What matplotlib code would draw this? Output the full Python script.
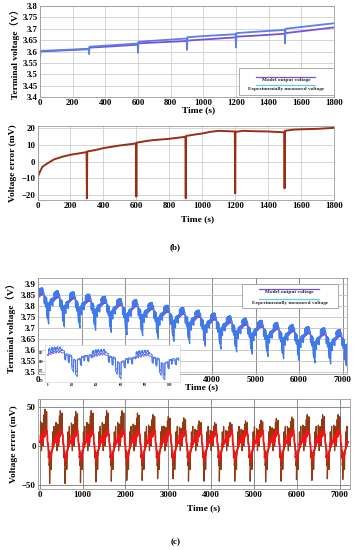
import matplotlib
matplotlib.use('Agg')
import matplotlib.pyplot as plt
import numpy as np
from matplotlib.patches import Rectangle

plt.rcParams['font.family'] = ['Liberation Serif', 'Noto Sans CJK SC']
plt.rcParams['font.weight'] = 'bold'
plt.rcParams['axes.labelweight'] = 'bold'

### data, panel (b) top: terminal voltage, 1800 s test
meas1_t = [0, 3, 10, 150, 298, 300, 303, 450, 598, 600, 603, 750, 898, 900, 903, 1050,
           1198, 1200, 1203, 1350, 1498, 1500, 1503, 1650, 1800]
meas1_v = [3.571, 3.600, 3.603, 3.607, 3.612, 3.589, 3.621, 3.628, 3.635, 3.595, 3.643, 3.650,
           3.657, 3.607, 3.663, 3.670, 3.676, 3.618, 3.681, 3.688, 3.695, 3.636, 3.700, 3.712, 3.724]
model1_t = [0, 150, 298, 303, 450, 598, 603, 750, 898, 903, 1050, 1198, 1203, 1350, 1498, 1503, 1650, 1800]
model1_v = [3.600, 3.605, 3.610, 3.617, 3.623, 3.630, 3.636, 3.641, 3.646, 3.648, 3.655, 3.662,
            3.665, 3.671, 3.678, 3.681, 3.693, 3.706]

# panel (b) bottom: voltage error (mV)
err1_t = [0, 2, 10, 30, 60, 100, 150, 200, 250, 298, 300, 302, 350, 400, 500, 598, 600, 602,
          650, 700, 800, 898, 900, 902, 950, 1000, 1050, 1100, 1198, 1200, 1202, 1250, 1300,
          1400, 1498, 1500, 1502, 1550, 1600, 1700, 1800]
err1_v = [-22.5, -9, -7, -3, -1, 1.4, 3, 4.2, 5, 5.8, -22, 6.2, 7, 8.2, 9.8, 11, -21, 11.5,
          12.3, 13, 13.8, 15, -22, 15.5, 16.3, 17, 18, 18.6, 18.2, -19, 18, 18.6, 18.4,
          18.2, 17.7, -16, 18.6, 19.3, 19.5, 19.8, 20.4]

### panel (c): 20 pulse cycles of 360 s
cyc_start = [0, 360, 720, 1080, 1440, 1800, 2160, 2520, 2880, 3240,
             3600, 3960, 4320, 4680, 5040, 5400, 5760, 6120, 6480, 6840]
cyc_top = [3.878, 3.865, 3.860, 3.850, 3.840, 3.830, 3.825, 3.812, 3.800, 3.790,
           3.778, 3.765, 3.752, 3.742, 3.732, 3.722, 3.712, 3.703, 3.698, 3.690]
err_peak = [47, 45, 44, 45, 45, 45, 42, 40, 38, 36, 32, 30, 30, 32, 33, 35, 37, 40, 40, 40]
err_dip = [-48, -48, -47, -46, -45, -44, -44, -42, -42, -45, -45, -45, -45, -45, -46, -45, -43, -44, -42, -43]

# one cycle (offsets from the cycle's top voltage)
cyc_dt = [0, 8, 9, 15, 16, 24, 25, 30, 31, 38, 39, 45, 46, 53, 54, 60, 61, 68, 69, 75, 76,
          83, 84, 90, 91, 98, 99, 105, 106, 113, 114, 120, 121, 140, 141, 150, 151, 170, 171,
          180, 181, 200, 201, 215, 216, 230, 231, 245, 246, 270, 271, 280, 281, 300, 301,
          306, 307, 330, 331, 340, 341, 359]
meas_dv = [-0.040, -0.040, -0.010, -0.018, -0.005, -0.030, -0.030, -0.022, -0.004, -0.015,
           0.000, -0.025, -0.025, -0.012, -0.002, -0.012, 0.002, -0.020, -0.020, -0.010,
           -0.001, -0.008, 0.003, -0.018, -0.018, -0.006, 0.000, -0.004, 0.002, -0.018,
           -0.018, -0.010, -0.018, -0.020, -0.065, -0.070, -0.035, -0.038, -0.080, -0.085,
           -0.040, -0.045, -0.115, -0.135, -0.065, -0.070, -0.145, -0.160, -0.065, -0.060,
           -0.095, -0.100, -0.050, -0.048, -0.075, -0.070, -0.045, -0.045, -0.075, -0.078,
           -0.042, -0.040]
model_dv = [-0.045, -0.045, -0.034, -0.034, -0.032, -0.040, -0.040, -0.038, -0.028, -0.028,
            -0.026, -0.036, -0.036, -0.034, -0.024, -0.024, -0.022, -0.032, -0.032, -0.030,
            -0.021, -0.021, -0.020, -0.030, -0.030, -0.028, -0.019, -0.019, -0.018, -0.030,
            -0.030, -0.029, -0.030, -0.032, -0.060, -0.062, -0.042, -0.044, -0.072, -0.075,
            -0.048, -0.052, -0.100, -0.112, -0.068, -0.072, -0.125, -0.135, -0.070, -0.066,
            -0.088, -0.092, -0.056, -0.054, -0.070, -0.068, -0.052, -0.052, -0.072, -0.074,
            -0.048, -0.045]
err_dt = [0, 20, 21, 23, 40, 41, 43, 60, 61, 63, 80, 81, 83, 100, 101, 103, 120, 121, 123,
          140, 141, 143, 160, 161, 163, 180, 181, 200, 201, 220, 221, 230, 231, 236, 250,
          270, 271, 275, 300, 301, 303, 330, 331, 333, 359]
err_brown = [5, 8, 30, 9, 8, -6, 6, 10, 28, 11, 10, 0, 10, 12, 38, 13, 12, 45, 14, 15, 40,
             15, 17, 42, 16, 14, 2, 0, -15, -10, -25, -20, -47, -30, -20, -12, -30, -10,
             -5, 18, -3, 0, 25, 2, 5]
err_red = [5, 8, 14, 9, 8, 2, 6, 10, 15, 11, 10, 5, 10, 12, 18, 13, 12, 20, 14, 15, 19,
           15, 17, 20, 16, 14, 6, 2, -5, -6, -12, -14, -20, -18, -14, -8, -12, -6,
           -3, 4, -1, 2, 8, 3, 5]

### build the long series
meas3_t, meas3_v, model3_v, err3_t, brown3, red3 = [], [], [], [], [], []
for k, s in enumerate(cyc_start):
    meas3_t.append(s + np.array(cyc_dt))
    meas3_v.append(cyc_top[k] + np.array(meas_dv))
    model3_v.append(cyc_top[k] + np.array(model_dv))
    eb = np.array(err_brown, dtype=float)
    eb = np.where(eb > 25, eb * err_peak[k] / 45, eb)
    eb = np.where(eb < -40, err_dip[k], eb)
    err3_t.append(s + np.array(err_dt))
    brown3.append(eb)
    red3.append(np.array(err_red, dtype=float))
meas3_t = np.concatenate(meas3_t)
meas3_v = np.concatenate(meas3_v)
model3_v = np.concatenate(model3_v)
err3_t = np.concatenate(err3_t)
brown3 = np.concatenate(brown3)
red3 = np.concatenate(red3)

c_meas = '#3f7be8'
c_model = '#7a4fdc'
tick_fs = 6.3
lab_fs = 6.8


def style(ax, gridcol):
    ax.grid(True, color=gridcol, linewidth=0.6)
    ax.set_axisbelow(True)
    ax.tick_params(length=0, labelsize=tick_fs, pad=1.5)
    for lab in ax.get_xticklabels() + ax.get_yticklabels():
        lab.set_fontweight('bold')
    for sp in ax.spines.values():
        sp.set_color('#9a9a9a')
        sp.set_linewidth(0.6)


def legend_box(ax, x0, y0, x1, y1, rows):
    ax.add_patch(Rectangle((x0, y0), x1 - x0, y1 - y0, transform=ax.transAxes,
                           facecolor='white', edgecolor='#8a8a8a', linewidth=0.5, zorder=5))
    w = x1 - x0
    for ly, ty, col, txt in rows:
        ax.plot([x0 + 0.18 * w, x1 - 0.2 * w], [ly, ly],
                transform=ax.transAxes, color=col, linewidth=0.9, zorder=6)
        ax.text((x0 + x1) / 2, ty, txt, transform=ax.transAxes, fontsize=3.8,
                fontweight='bold', ha='center', va='center', color='#222222', zorder=6)


fig = plt.figure(figsize=(3.55, 5.5), dpi=100)

# (b) top
ax1 = fig.add_axes([40 / 355, 1 - 97 / 550, 294 / 355, 91 / 550])
ax1.plot(model1_t, model1_v, color=c_model, linewidth=1.3)
ax1.plot(meas1_t, meas1_v, color='#5a80e6', linewidth=1.3)
ax1.set_xlim(0, 1800)
ax1.set_ylim(3.4, 3.8)
ax1.set_xticks(np.arange(0, 1801, 200))
yt1 = np.arange(3.4, 3.801, 0.05)
ax1.set_yticks(yt1)
ax1.set_yticklabels(['%g' % round(v, 2) for v in yt1])
style(ax1, '#cfcfcf')
ax1.set_ylabel('Terminal voltage（V）', fontsize=lab_fs, labelpad=2)
ax1.set_xlabel('Time (s)', fontsize=lab_fs, labelpad=0.5)
ax1.xaxis.set_label_coords(0.54, -0.1)
legend_box(ax1, 0.676, 0.02, 1.0, 0.32,
           [(0.225, 0.19, c_model, 'Model output voltage'),
            (0.13, 0.085, '#5fd0e8', 'Experimentally measured voltage')])

# (b) bottom
ax2 = fig.add_axes([37.5 / 355, 1 - 200 / 550, 296.5 / 355, 74 / 550])
ax2.plot(err1_t, err1_v, color='#9b2d14', linewidth=1.4)
ax2.set_xlim(0, 1800)
ax2.set_ylim(-23, 21.5)
ax2.set_xticks(np.arange(0, 1801, 200))
ax2.set_yticks([-20, -10, 0, 10, 20])
style(ax2, '#cfcfcf')
ax2.set_ylabel('Voltage error (mV)', fontsize=lab_fs, labelpad=3)
ax2.set_xlabel('Time (s)', fontsize=lab_fs, labelpad=0.5)
ax2.xaxis.set_label_coords(0.54, -0.2)
fig.text(175 / 355, 1 - 247 / 550, '(b)', fontsize=6.5, fontweight='bold', ha='center', va='center')

# (c) top
ax3 = fig.add_axes([38 / 355, 1 - 373.5 / 550, 309 / 355, 95.5 / 550])
ax3.plot(meas3_t, model3_v, color=c_model, linewidth=0.7)
ax3.plot(meas3_t, meas3_v, color=c_meas, linewidth=0.9)
ax3.set_xlim(0, 7100)
ax3.set_ylim(3.495, 3.925)
ax3.set_xticks(np.arange(0, 7001, 1000))
yt3 = np.arange(3.5, 3.901, 0.05)
ax3.set_yticks(yt3)
ax3.set_yticklabels(['%g' % round(v, 2) for v in yt3])
style(ax3, '#c4c4c4')
ax3.grid(True, axis='x', color='#7a7a7a', linewidth=0.6)
ax3.set_ylabel('Terminal voltage（V）', fontsize=lab_fs, labelpad=3)
ax3.set_xlabel('Time (s)', fontsize=lab_fs, labelpad=0.5)
ax3.xaxis.set_label_coords(0.53, -0.1)
legend_box(ax3, 0.66, 0.69, 0.97, 0.94,
           [(0.89, 0.855, c_model, 'Model output voltage'),
            (0.775, 0.735, '#5fd0e8', 'Experimentally measured voltage')])

# inset with a zoomed piece of the pulse test
axi = fig.add_axes([45 / 355, 1 - 381.7 / 550, 135 / 355, 36.7 / 550])
sel = meas3_t <= 1080
axi.plot(meas3_t[sel], model3_v[sel], color=c_model, linewidth=0.6)
axi.plot(meas3_t[sel], meas3_v[sel], color=c_meas, linewidth=0.7)
axi.set_xlim(-20, 1090)
axi.tick_params(length=0, labelsize=1.8, pad=1)
for sp in axi.spines.values():
    sp.set_color('#cccccc')
    sp.set_linewidth(0.4)

# (c) bottom
ax4 = fig.add_axes([38 / 355, 1 - 489 / 550, 312 / 355, 90 / 550])
ax4.plot(err3_t, brown3, color='#8f3a12', linewidth=0.9)
ax4.plot(err3_t, red3, color='#f01414', linewidth=1.2)
ax4.set_xlim(-40, 7240)
ax4.set_ylim(-55, 60)
ax4.set_xticks(np.arange(0, 7001, 1000))
ax4.set_yticks([-50, 0, 50])
style(ax4, '#7a7a7a')
ax4.set_ylabel('Voltage error (mV)', fontsize=lab_fs, labelpad=3)
ax4.set_xlabel('Time (s)', fontsize=lab_fs, labelpad=0.5)
ax4.xaxis.set_label_coords(0.53, -0.17)
fig.text(176 / 355, 1 - 542 / 550, '(c)', fontsize=6.5, fontweight='bold', ha='center', va='center')

fig.savefig('out.png', dpi=100)
